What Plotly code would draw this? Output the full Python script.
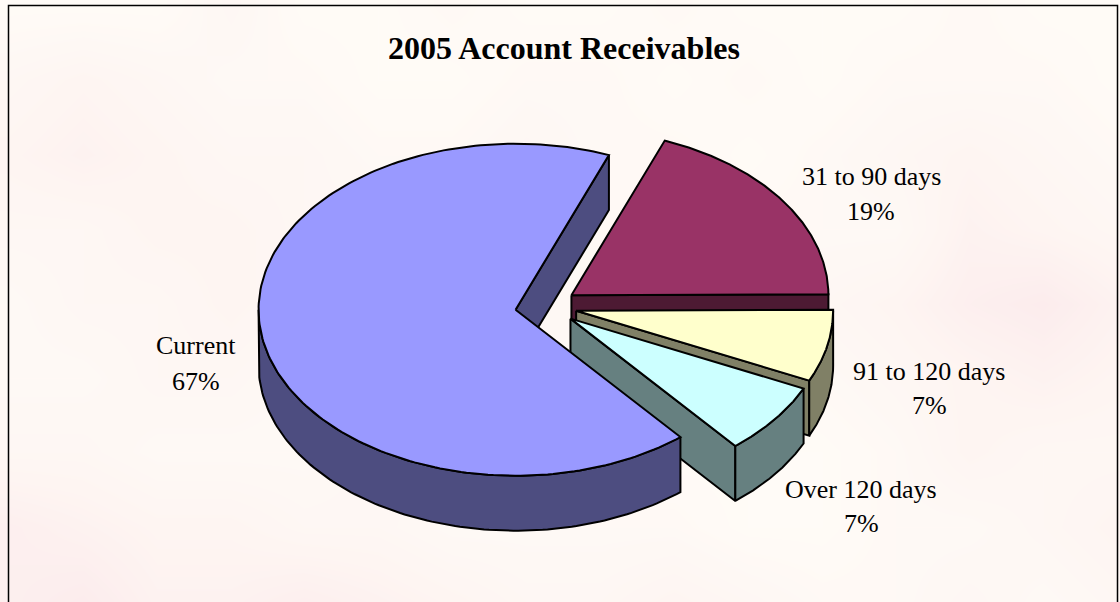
import numpy as np
import plotly.graph_objects as go

# Chart data
title = "2005 Account Receivables"
categories = ["31 to 90 days", "91 to 120 days", "Over 120 days", "Current"]
percents = [19, 7, 7, 67]

# Styling
top_colors = ["#993366", "#FFFFCC", "#CCFFFF", "#9999FF"]
wall_colors = ["#4D1A33", "#808066", "#668080", "#4D4D80"]
SERIF = "Liberation Serif, Times New Roman, serif"

# Pie geometry in canvas units
CX, CY = 546.0, 306.5
RX, RY = 257.0, 166.0
DEPTH = 55.0
EXPLODE = 0.12
START_DEG = 21.3

# Label anchors (name line y, percent line y share one x)
label_x = [871, 929, 861, 196]
label_y_name = [176, 371, 489, 345]
label_y_pct = [211, 405, 523, 381]

# Mottled paper tint behind the chart, coarse grid from top to bottom
tint = [
    [1, 1, 1, 3, 1, 1, 2, 1, 1, 2, 1, 1, 1, 2, 1, 1],
    [3, 4, 3, 2, 2, 1, 1, 2, 2, 1, 2, 1, 2, 2, 2, 1],
    [4, 5, 4, 3, 3, 2, 2, 3, 2, 2, 1, 2, 3, 4, 3, 2],
    [3, 3, 4, 4, 3, 3, 2, 2, 2, 2, 2, 2, 2, 5, 4, 3],
    [2, 3, 3, 4, 3, 2, 2, 3, 2, 2, 1, 3, 4, 6, 7, 5],
    [2, 2, 3, 3, 2, 2, 3, 2, 2, 1, 1, 2, 3, 4, 5, 4],
    [3, 3, 2, 2, 2, 3, 3, 2, 1, 1, 1, 1, 2, 4, 3, 3],
    [6, 5, 4, 4, 3, 3, 2, 2, 2, 2, 1, 1, 2, 2, 3, 4],
    [6, 7, 5, 5, 6, 5, 4, 3, 3, 4, 3, 2, 2, 3, 2, 3],
]


def rim(a_deg, cx, cy, dy=0.0):
    """Rim point for a clockwise-from-top angle on the tilted ellipse."""
    a = np.radians(a_deg)
    return cx + RX * np.sin(a), cy - RY * np.cos(a) + dy


def polygon(xs, ys, fill):
    return go.Scatter(
        x=xs, y=ys, mode="lines", fill="toself", fillcolor=fill,
        line=dict(color="#000000", width=2), hoverinfo="skip", showlegend=False,
    )


fig = go.Figure()

nrows, ncols = len(tint), len(tint[0])
fig.add_trace(go.Heatmap(
    z=tint,
    x=np.linspace(9, 1117, ncols),
    y=np.linspace(6, 601, nrows),
    zmin=0, zmax=8, zsmooth="best", showscale=False, hoverinfo="skip",
    colorscale=[[0, "#FFFDF8"], [0.5, "#FEF5F2"], [1, "#FBE9EB"]],
))

# Slices are painted back to front, with Current last
angle = START_DEG
for pct, top, wall in zip(percents, top_colors, wall_colors):
    a0, a1 = angle, angle + pct * 3.6
    angle = a1
    mid = np.radians((a0 + a1) / 2)
    ox = CX + EXPLODE * RX * np.sin(mid)
    oy = CY - EXPLODE * RY * np.cos(mid)

    # Radial wall that faces the viewer
    for edge, visible in ((a0, np.sin(np.radians(a0)) < 0), (a1, np.sin(np.radians(a1)) > 0)):
        if visible:
            ex, ey = rim(edge, ox, oy)
            fig.add_trace(polygon([ox, ex, ex, ox, ox],
                                  [oy, ey, ey + DEPTH, oy + DEPTH, oy], wall))

    # Outer curved wall on the front half of the ellipse
    lo, hi = max(a0, 90.0), min(a1, 270.0)
    if hi > lo:
        arc = np.linspace(lo, hi, 120)
        ax, ay = rim(arc, ox, oy)
        fig.add_trace(polygon(
            np.concatenate([ax, ax[::-1], ax[:1]]),
            np.concatenate([ay, ay[::-1] + DEPTH, ay[:1]]), wall))

    # Top face
    arc = np.linspace(a0, a1, 200)
    ax, ay = rim(arc, ox, oy)
    fig.add_trace(polygon(np.concatenate([[ox], ax, [ox]]),
                          np.concatenate([[oy], ay, [oy]]), top))

annotations = [dict(
    x=564, y=48, xref="x", yref="y", text=f"<b>{title}</b>", showarrow=False,
    font=dict(family=SERIF, size=32, color="#000000"),
)]
for name, pct, x, y1, y2 in zip(categories, percents, label_x, label_y_name, label_y_pct):
    for txt, y in ((name, y1), (f"{pct}%", y2)):
        annotations.append(dict(
            x=x, y=y, xref="x", yref="y", text=txt, showarrow=False,
            font=dict(family=SERIF, size=26, color="#000000"),
        ))

# Open-bottomed frame around the chart area
frame_x, frame_y = [8.5, 8.5, 1117.5, 1117.5], [602, 5.5, 5.5, 602]
fig.add_trace(go.Scatter(x=frame_x, y=frame_y, mode="lines",
                         line=dict(color="#000000", width=1.5),
                         hoverinfo="skip", showlegend=False))

fig.update_layout(
    width=1120, height=602,
    margin=dict(l=0, r=0, t=0, b=0),
    paper_bgcolor="#FFFFFF", plot_bgcolor="#FFFFFF",
    showlegend=False, annotations=annotations,
    xaxis=dict(range=[0, 1120], visible=False, fixedrange=True),
    yaxis=dict(range=[602, 0], visible=False, fixedrange=True),
)

fig.write_html("out.html", config={"displayModeBar": False})
